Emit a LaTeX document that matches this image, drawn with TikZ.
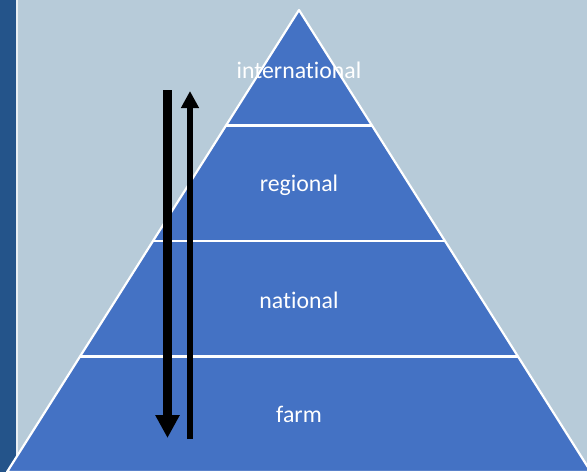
\documentclass[tikz,border=0pt]{standalone}
\usepackage{fontspec}
\setmainfont[Ligatures={NoCommon}]{Carlito}
\usetikzlibrary{arrows.meta,calc}
\definecolor{bgc}{HTML}{B7CBD9}
\definecolor{strip}{HTML}{24548A}
\definecolor{pyr}{HTML}{4472C4}
\tikzset{
  lvl/.style={text=white, font=\fontsize{23.8}{26}\selectfont},
  edge/.style={draw=white, line width=2.2pt},
}
\begin{document}
\begin{tikzpicture}[x=1pt,y=-1pt]
\useasboundingbox (0,0) rectangle (587,475);
\fill[bgc] (0,0) rectangle (587,475);
\fill[strip] (0,0) rectangle (16,475);
\fill[white!70!bgc] (16,0) rectangle (17.5,475);
\coordinate (apex) at (299,10);
\coordinate (bl) at (7,472);
\coordinate (br) at (591,472);
\foreach \f/\n in {0.25/a,0.5/b,0.75/c}{
  \coordinate (L\n) at ($(apex)!\f!(bl)$);
  \coordinate (R\n) at ($(apex)!\f!(br)$);
}
\begin{scope}
\clip (0,0) rectangle (587,475);
\fill[pyr] (apex) -- (bl) -- (br) -- cycle;
\draw[edge, line join=round] (bl) -- (apex) -- (br) -- cycle;
\draw[edge] (La) -- (Ra);
\draw[edge] (Lb) -- (Rb);
\draw[edge] (Lc) -- (Rc);
\fill[white] (0,472) rectangle (587,475);
\end{scope}
\node[lvl] (intl) at (299,70) {international};
\node[lvl] (reg) at (299,185) {regional};
\node[lvl] (nat) at (299,300) {national};
\node[lvl] (farm) at (299,414) {farm};
\coordinate (dtop) at (167.5,90);
\coordinate (dbot) at (167.5,438);
\coordinate (ubot) at (190,439);
\coordinate (utop) at (190,91);
\draw[line width=9pt, -{Triangle[length=23pt, width=23pt]}] (dtop) -- (dbot);
\draw[line width=6pt, -{Triangle[length=17pt, width=17pt]}] (ubot) -- (utop);
\end{tikzpicture}
\end{document}
